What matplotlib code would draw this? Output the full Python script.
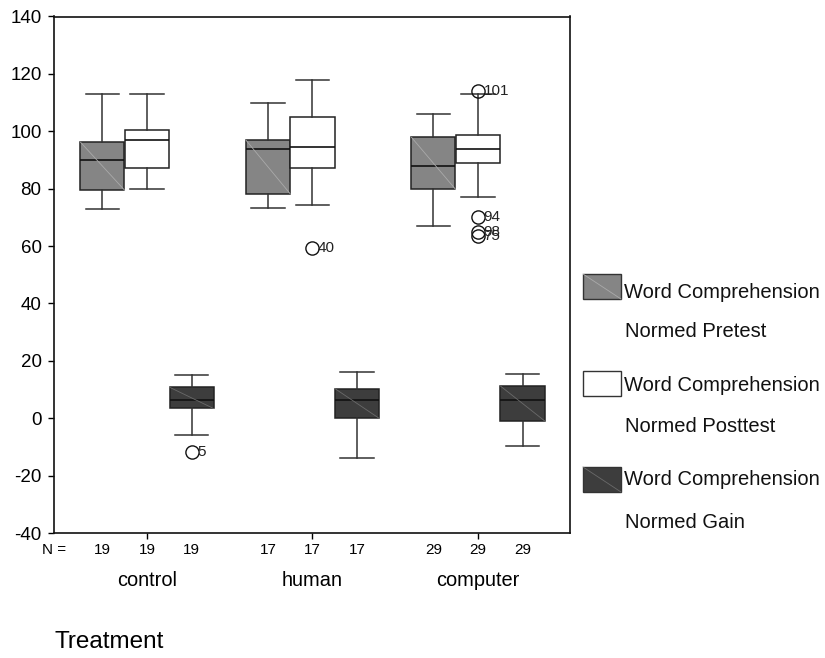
import numpy as np
import matplotlib
matplotlib.use('Agg')
import matplotlib.pyplot as plt
from matplotlib.patches import Rectangle

plt.rcParams['font.family'] = ['Liberation Sans', 'DejaVu Sans']
plt.rcParams['axes.unicode_minus'] = False

# data
groups = ['control', 'human', 'computer']
n_counts = [19, 17, 29]
series_names = ['Word Comprehension\nNormed Pretest',
                'Word Comprehension\nNormed Posttest',
                'Word Comprehension\nNormed Gain']

# whislo, q1, median, q3, whishi per group
pretest = [[72.9, 79.5, 90.0, 96.2, 113.1],
           [73.2, 78.3, 93.9, 96.9, 110.0],
           [67.1, 79.8, 87.9, 97.9, 105.9]]
posttest = [[80.0, 87.2, 97.0, 100.6, 113.0],
            [74.2, 87.2, 94.6, 105.1, 117.9],
            [77.0, 88.8, 93.8, 98.7, 113.1]]
gain = [[-5.9, 3.4, 6.3, 10.8, 15.2],
        [-13.8, 0.0, 6.3, 10.3, 16.1],
        [-9.7, -0.9, 6.3, 11.2, 15.3]]

pretest_out = [[], [], []]
pretest_out_ids = [[], [], []]
posttest_out = [[], [59.2], [113.9, 70.2, 65.0, 63.5]]
posttest_out_ids = [[], ['40'], ['101', '94', '98', '75']]
gain_out = [[-11.7], [], []]
gain_out_ids = [['5'], [], []]

series = [pretest, posttest, gain]
series_out = [pretest_out, posttest_out, gain_out]
series_ids = [pretest_out_ids, posttest_out_ids, gain_out_ids]
fills = ['#858585', '#ffffff', '#3d3d3d']
diag = ['#aaaaaa', None, '#6a6a6a']

fig = plt.figure(figsize=(8.25, 6.58), dpi=100)
ax = fig.add_axes([54/825, 1-533/658, 516/825, 516.5/658])

offset = 0.269
width = 0.266
centers = np.arange(1, len(groups)+1)

for s, vals in enumerate(series):
    pos = centers + (s-1)*offset
    stats = []
    for g in range(len(groups)):
        lo, q1, med, q3, hi = vals[g]
        stats.append(dict(whislo=lo, q1=q1, med=med, q3=q3, whishi=hi,
                          fliers=series_out[s][g]))
    ax.bxp(stats, positions=pos, widths=width, capwidths=0.205,
           patch_artist=True, manage_ticks=False,
           boxprops=dict(facecolor=fills[s], edgecolor='#222222', linewidth=1.1),
           medianprops=dict(color='#111111', linewidth=1.2),
           whiskerprops=dict(color='#333333', linewidth=1.1),
           capprops=dict(color='#333333', linewidth=1.1),
           flierprops=dict(marker='o', markersize=9.5, markerfacecolor='none',
                           markeredgecolor='#111111', markeredgewidth=1.0))
    # faint diagonal inside filled boxes
    if diag[s]:
        for g in range(len(groups)):
            lo, q1, med, q3, hi = vals[g]
            ax.plot([pos[g]-width/2, pos[g]+width/2], [q3, q1],
                    color=diag[s], linewidth=0.6, zorder=3)
    # outlier case labels
    for g in range(len(groups)):
        for v, lab in zip(series_out[s][g], series_ids[s][g]):
            ax.annotate(lab, (pos[g], v), xytext=(4.0, 0),
                        textcoords='offset points', va='center', ha='left',
                        fontsize=11, color='#222222')

ax.set_xlim(0.438, 3.556)
ax.set_ylim(-40, 140)
ax.set_yticks(np.arange(-40, 141, 20))
ax.tick_params(axis='y', labelsize=13.5, length=4, width=1, pad=5)
ax.set_xticks(centers)
ax.set_xticklabels([])
ax.tick_params(axis='x', length=4, width=1)
for sp in ax.spines.values():
    sp.set_linewidth(1.2)
    sp.set_color('#111111')

# N counts and group names under axis
tr = ax.get_xaxis_transform()
for g in range(len(groups)):
    for s in range(3):
        ax.text(centers[g] + (s-1)*offset, -0.0329, str(n_counts[g]),
                transform=tr, ha='center', va='center', fontsize=11)
    ax.text(centers[g], -0.0929, groups[g], transform=tr,
            ha='center', va='center', fontsize=14.4)
fig.text(54/825, 1-550/658, 'N =', ha='center', va='center', fontsize=11)
fig.text(54/825, 1-642/658, 'Treatment', ha='left', va='center', fontsize=17.5)

# legend drawn at the right
W, H = 825, 658
patch_tops = [274, 371, 467]
word_base = [298, 391, 485]
name_base = [337, 432, 528]
for s in range(3):
    top = patch_tops[s]
    r = Rectangle((583/W, 1-(top+25)/H), 38/W, 25/H, transform=fig.transFigure,
                  facecolor=fills[s], edgecolor='#333333', linewidth=1.0)
    fig.patches.append(r)
    if diag[s]:
        fig.lines.append(plt.Line2D([583/W, 621/W], [1-top/H, 1-(top+25)/H],
                                    transform=fig.transFigure, color=diag[s],
                                    linewidth=0.6))
    line1, line2 = series_names[s].split('\n')
    fig.text(624/W, 1-word_base[s]/H, line1, ha='left', va='baseline',
             fontsize=14.5, color='#111111')
    fig.text(625/W, 1-name_base[s]/H, line2, ha='left', va='baseline',
             fontsize=14.5, color='#111111')

fig.savefig('out.png', dpi=100)
